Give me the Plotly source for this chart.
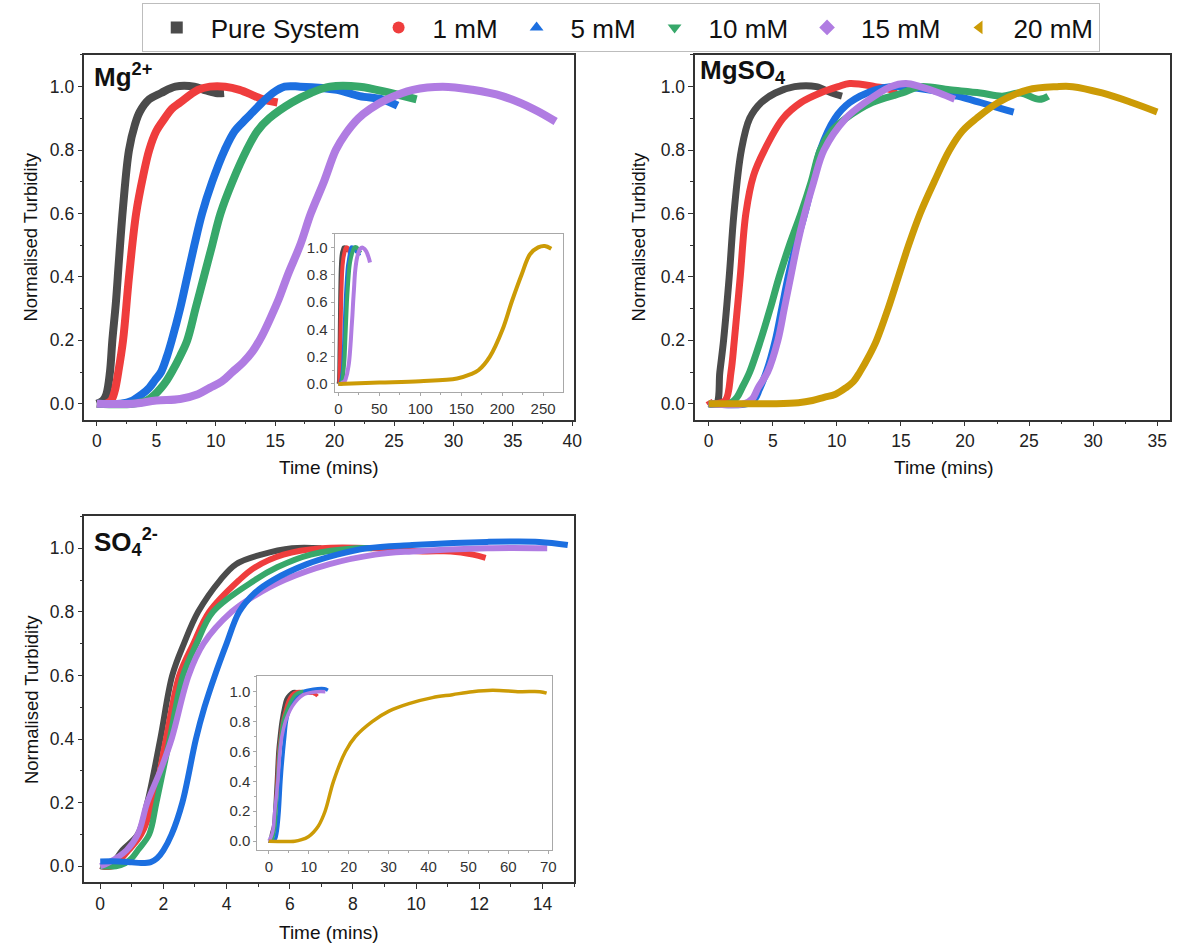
import plotly.graph_objects as go

W, H = 1178, 949

SERIES = ["Pure System", "1 mM", "5 mM", "10 mM", "15 mM", "20 mM"]
COLORS = ["#4b4b4b", "#ef3d3d", "#1c6fe0", "#37a86a", "#b07ce2", "#cc9b06"]
SYMBOLS = ["square", "circle", "triangle-up", "triangle-down", "diamond", "triangle-left"]

# ---- Mg2+ panel (time in minutes, normalised turbidity) ----
mg_pure_t = [0, 0.5, 0.8, 1.1, 1.3, 1.6, 1.85, 2.2, 2.7, 3.2, 3.6, 4.4, 5.4, 6.6, 8.2, 9.0, 10.0, 10.7]
mg_pure_v = [0, 0.01, 0.03, 0.1, 0.2, 0.32, 0.45, 0.62, 0.8, 0.88, 0.92, 0.96, 0.98, 1.0, 1.0, 0.99, 0.98, 0.98]
mg_1_t = [0, 0.8, 1.2, 1.5, 1.8, 2.2, 2.7, 3.3, 3.9, 4.4, 5.0, 5.7, 6.3, 7.0, 8.5, 9.5, 10.8, 12.0, 13.3, 14.0, 15.2]
mg_1_v = [0, 0.0, 0.01, 0.04, 0.1, 0.2, 0.4, 0.6, 0.72, 0.8, 0.86, 0.9, 0.93, 0.95, 0.99, 1.0, 1.0, 0.99, 0.97, 0.96, 0.95]
mg_5_t = [0, 2.0, 3.0, 3.8, 4.4, 4.9, 5.4, 5.9, 6.3, 7.0, 7.6, 8.2, 8.85, 9.7, 10.75, 11.6, 12.6, 13.9, 14.8, 15.8, 17.1, 20.2, 22.1, 24.0, 25.3]
mg_5_v = [0, 0.0, 0.01, 0.03, 0.05, 0.075, 0.1, 0.15, 0.2, 0.3, 0.4, 0.5, 0.6, 0.7, 0.8, 0.86, 0.9, 0.95, 0.98, 1.0, 1.0, 0.99, 0.97, 0.96, 0.94]
mg_10_t = [0, 3.0, 4.2, 4.9, 5.4, 5.9, 6.3, 7.0, 7.6, 8.3, 9.0, 9.7, 10.4, 11.4, 12.6, 13.5, 14.5, 16.4, 18.0, 19.6, 22.1, 24.7, 26.9]
mg_10_v = [0, 0.0, 0.01, 0.03, 0.05, 0.075, 0.1, 0.15, 0.2, 0.3, 0.4, 0.5, 0.6, 0.7, 0.8, 0.86, 0.9, 0.95, 0.98, 1.0, 1.0, 0.98, 0.96]
mg_15_t = [0, 3, 5, 7, 8.5, 9.5, 10.5, 11.4, 12.3, 13.1, 13.9, 14.6, 15.3, 16.1, 17.1, 18.0, 19.1, 20.1, 20.9, 22.0, 23.0, 24.4, 26.6, 29.1, 31.6, 34.1, 36.7, 38.6]
mg_15_v = [0, 0.0, 0.01, 0.015, 0.03, 0.05, 0.07, 0.1, 0.13, 0.165, 0.215, 0.27, 0.33, 0.41, 0.5, 0.6, 0.7, 0.8, 0.85, 0.9, 0.93, 0.96, 0.99, 1.0, 0.99, 0.97, 0.93, 0.89]
mg_20_t = [0, 50, 100, 145, 161, 171, 185, 200.6, 211.6, 223.7, 234, 244, 252, 260]
mg_20_v = [0, 0.01, 0.02, 0.04, 0.07, 0.1, 0.2, 0.4, 0.6, 0.8, 0.95, 1.0, 1.01, 0.99]

# ---- MgSO4 panel ----
ms_pure_t = [0, 0.6, 0.87, 1.16, 1.6, 1.97, 2.55, 3.2, 4.1, 5.2, 6.7, 8.4, 9.6, 10.4]
ms_pure_v = [0, 0.0, 0.1, 0.2, 0.4, 0.6, 0.8, 0.9, 0.95, 0.98, 1.0, 1.0, 0.98, 0.97]
ms_1_t = [0, 0.2, 0.6, 1.3, 1.74, 2.0, 2.46, 2.9, 3.5, 4.35, 5.8, 7.2, 8.7, 10.1, 11.0, 13.0, 14.2, 14.8]
ms_1_v = [0.01, 0.0, 0.0, 0.01, 0.1, 0.2, 0.4, 0.6, 0.72, 0.8, 0.9, 0.95, 0.98, 1.0, 1.01, 1.0, 0.99, 0.97]
ms_5_t = [0, 3.0, 3.6, 3.95, 4.5, 5.2, 5.7, 6.2, 6.8, 7.5, 8.1, 8.7, 9.85, 11.0, 13.0, 14.2, 17.1, 19.4, 21.2, 22.9, 23.8]
ms_5_v = [0, 0.0, 0.015, 0.045, 0.1, 0.2, 0.3, 0.4, 0.5, 0.6, 0.7, 0.8, 0.9, 0.95, 0.99, 1.0, 0.99, 0.97, 0.95, 0.93, 0.92]
ms_10_t = [0, 1.6, 2.2, 2.6, 3.2, 4.05, 4.8, 5.5, 6.3, 7.2, 8.0, 8.7, 9.6, 10.7, 12.75, 15.1, 16.5, 18.8, 21.2, 22.9, 24.3, 25.8, 26.5]
ms_10_v = [0, 0.0, 0.02, 0.05, 0.1, 0.2, 0.3, 0.4, 0.5, 0.6, 0.7, 0.8, 0.86, 0.9, 0.95, 0.98, 1.0, 0.99, 0.98, 0.97, 0.98, 0.96, 0.97]
ms_15_t = [0, 2.8, 3.4, 3.85, 4.6, 5.4, 5.9, 6.4, 6.9, 7.5, 8.2, 9.0, 10.7, 12.2, 14.2, 15.4, 16.5, 18.0, 19.2]
ms_15_v = [0, 0.0, 0.015, 0.05, 0.1, 0.2, 0.3, 0.4, 0.5, 0.6, 0.7, 0.8, 0.9, 0.95, 1.0, 1.01, 1.0, 0.98, 0.96]
ms_20_t = [0, 5, 7.0, 8.1, 9.0, 9.9, 10.7, 11.3, 11.8, 12.5, 13.1, 14.0, 14.8, 15.6, 16.5, 17.6, 18.8, 19.8, 20.9, 22.6, 24.9, 27.2, 28.4, 30.7, 33.0, 35.0]
ms_20_v = [0, 0.0, 0.003, 0.01, 0.02, 0.03, 0.05, 0.07, 0.1, 0.15, 0.2, 0.3, 0.4, 0.5, 0.6, 0.7, 0.8, 0.86, 0.9, 0.95, 0.99, 1.0, 1.0, 0.98, 0.95, 0.92]

# ---- SO4 2- panel ----
so_pure_t = [0, 0.3, 0.7, 1.19, 1.49, 1.9, 2.28, 2.65, 3.1, 3.8, 4.3, 5.1, 6.07, 7.0]
so_pure_v = [0, 0.0, 0.05, 0.1, 0.2, 0.4, 0.6, 0.7, 0.8, 0.9, 0.95, 0.98, 1.0, 1.0]
so_1_t = [0, 0.4, 0.9, 1.3, 1.67, 2.08, 2.5, 2.95, 3.45, 4.4, 4.9, 5.8, 7.0, 8.7, 10.2, 11.1, 11.8, 12.2]
so_1_v = [0, 0.0, 0.05, 0.1, 0.2, 0.4, 0.6, 0.7, 0.8, 0.9, 0.94, 0.98, 1.0, 1.0, 0.99, 0.99, 0.98, 0.97]
so_5_t = [0, 0.6, 1.0, 1.3, 1.6, 1.8, 2.0, 2.26, 2.6, 3.03, 3.3, 3.63, 4.0, 4.4, 4.9, 5.47, 6.54, 7.5, 8.45, 9.87, 12.25, 13.9, 14.8]
so_5_v = [0.015, 0.015, 0.012, 0.01, 0.013, 0.025, 0.05, 0.1, 0.2, 0.4, 0.5, 0.6, 0.7, 0.8, 0.86, 0.9, 0.95, 0.98, 1.0, 1.01, 1.02, 1.02, 1.01]
so_10_t = [0, 0.5, 0.8, 1.0, 1.19, 1.55, 1.78, 2.2, 2.62, 3.05, 3.57, 4.9, 5.6, 6.66, 8.1, 8.6]
so_10_v = [0, 0.0, 0.01, 0.025, 0.05, 0.1, 0.2, 0.4, 0.6, 0.7, 0.8, 0.9, 0.94, 0.98, 1.0, 1.0]
so_15_t = [0, 0.24, 0.83, 1.19, 1.49, 1.9, 2.26, 2.8, 3.27, 4.16, 4.88, 5.83, 7.26, 8.7, 9.87, 12.25, 14.15]
so_15_v = [0, 0.01, 0.05, 0.1, 0.2, 0.3, 0.4, 0.6, 0.7, 0.8, 0.85, 0.9, 0.95, 0.98, 0.99, 1.0, 1.0]
so_20_t = [0, 6.5, 8.2, 9.9, 11.2, 12.4, 14.1, 16.2, 19.2, 21.7, 25.9, 30.1, 35.1, 41, 46, 51, 56, 62.9, 67.9, 69.6]
so_20_v = [0, 0.0, 0.01, 0.03, 0.06, 0.1, 0.2, 0.4, 0.6, 0.7, 0.8, 0.87, 0.92, 0.96, 0.98, 1.0, 1.01, 1.0, 1.0, 0.99]

mg_main = [(mg_pure_t, mg_pure_v), (mg_1_t, mg_1_v), (mg_5_t, mg_5_v), (mg_10_t, mg_10_v), (mg_15_t, mg_15_v)]
mg_all = mg_main + [(mg_20_t, mg_20_v)]
ms_all = [(ms_pure_t, ms_pure_v), (ms_1_t, ms_1_v), (ms_5_t, ms_5_v), (ms_10_t, ms_10_v), (ms_15_t, ms_15_v), (ms_20_t, ms_20_v)]
so_main = [(so_pure_t, so_pure_v), (so_1_t, so_1_v), (so_10_t, so_10_v), (so_15_t, so_15_v), (so_5_t, so_5_v)]
so_main_idx = [0, 1, 3, 4, 2]
so_all = [(so_pure_t, so_pure_v), (so_1_t, so_1_v), (so_5_t, so_5_v), (so_10_t, so_10_v), (so_15_t, so_15_v), (so_20_t, so_20_v)]


def px_x(a, b):
    return [a / W, b / W]


def px_y(top, bottom):
    return [1 - bottom / H, 1 - top / H]


fig = go.Figure()


def add_curves(curves, idx, xa, ya, width):
    for (t, v), i in zip(curves, idx):
        fig.add_trace(go.Scatter(
            x=t, y=v, mode="lines", xaxis=xa, yaxis=ya, showlegend=False,
            line=dict(color=COLORS[i], width=width, shape="spline", smoothing=1.0),
            hoverinfo="skip",
        ))


add_curves(mg_main, range(5), "x", "y", 8)
add_curves(mg_all, range(6), "x2", "y2", 4)
add_curves(ms_all, range(6), "x3", "y3", 7)
add_curves(so_main, so_main_idx, "x4", "y4", 6)
add_curves(so_all, range(6), "x5", "y5", 3.5)

# legend entries
for name, c, s in zip(SERIES, COLORS, SYMBOLS):
    fig.add_trace(go.Scatter(
        x=[None], y=[None], mode="markers", name=name,
        marker=dict(color=c, symbol=s, size=12),
    ))

FONT = "Liberation Sans, Arial, sans-serif"
AX = "#333333"


def main_axis(domain, rng, dtick, minor_dtick, **kw):
    return dict(
        domain=domain, range=rng, showline=True, mirror=True, linecolor=AX, linewidth=1.5,
        ticks="outside", ticklen=5, tickwidth=1.3, tickcolor=AX, dtick=dtick, tick0=0,
        minor=dict(ticks="outside", ticklen=3, tickwidth=1.2, tickcolor=AX, dtick=minor_dtick),
        showgrid=False, zeroline=False, tickfont=dict(family=FONT, size=17.5, color="#222"),
        **kw,
    )


def inset_axis(domain, rng, dtick, minor_dtick, **kw):
    return dict(
        domain=domain, range=rng, showline=True, mirror=True, linecolor="#a8a8a8", linewidth=1,
        ticks="outside", ticklen=3, tickwidth=1, tickcolor="#a8a8a8", dtick=dtick, tick0=0,
        minor=dict(ticks="outside", ticklen=2, tickwidth=1, tickcolor="#a8a8a8", dtick=minor_dtick),
        showgrid=False, zeroline=False, tickfont=dict(family=FONT, size=15, color="#333"),
        **kw,
    )


fig.update_layout(
    width=W, height=H, margin=dict(l=0, r=0, t=0, b=0),
    paper_bgcolor="white", plot_bgcolor="rgba(0,0,0,0)",
    font=dict(family=FONT, color="#222"),
    showlegend=True,
    legend=dict(
        orientation="h", x=625 / W, xanchor="center", y=1 - 3 / H, yanchor="top",
        bordercolor="#bdbdbd", borderwidth=1, bgcolor="white",
        font=dict(family=FONT, size=26, color="#111"), itemwidth=58,
    ),
    xaxis=main_axis(px_x(85, 578), [-1.05, 40.15], 5, 2.5, anchor="y"),
    yaxis=main_axis(px_y(55, 420), [-0.05, 1.1], 0.2, 0.1, anchor="x", tickformat=".1f"),
    xaxis2=inset_axis(px_x(337, 567), [-4.5, 274.5], 50, 25, anchor="y2"),
    yaxis2=inset_axis(px_y(234, 392), [-0.056, 1.10], 0.2, 0.1, anchor="x2", tickformat=".1f"),
    xaxis3=main_axis(px_x(700, 1178), [-1.05, 36.0], 5, 2.5, anchor="y3"),
    yaxis3=main_axis(px_y(55, 420), [-0.05, 1.1], 0.2, 0.1, anchor="x3", tickformat=".1f"),
    xaxis4=main_axis(px_x(85, 578), [-0.5, 15.0], 2, 1, anchor="y4"),
    yaxis4=main_axis(px_y(517, 883), [-0.05, 1.1], 0.2, 0.1, anchor="x4", tickformat=".1f"),
    xaxis5=inset_axis(px_x(259, 556), [-2.9, 71.0], 10, 5, anchor="y5"),
    yaxis5=inset_axis(px_y(677, 851), [-0.06, 1.103], 0.2, 0.1, anchor="x5", tickformat=".1f"),
)


def ann(text, xp, yp, size, angle=0, xanchor="center", yanchor="middle"):
    fig.add_annotation(
        text=text, x=xp / W, y=1 - yp / H, xref="paper", yref="paper",
        showarrow=False, textangle=angle, xanchor=xanchor, yanchor=yanchor,
        font=dict(family=FONT, size=size, color="#111"),
    )


# axis titles
ann("Normalised Turbidity", 31, 237, 18.5, angle=-90)
ann("Normalised Turbidity", 643, 237, 18.5, angle=-90)
ann("Normalised Turbidity", 31, 700, 18.5, angle=-90)
ann("Time (mins)", 331, 468, 19)
ann("Time (mins)", 950, 468, 19)
ann("Time (mins)", 331, 933, 19)

# panel labels
ann("<b>Mg<sup>2+</sup></b>", 93, 76, 26, xanchor="left")
ann("<b>MgSO<sub>4</sub></b>", 703, 72, 26, xanchor="left")
ann("<b>SO<sub>4</sub><sup>2-</sup></b>", 93, 543, 26, xanchor="left")

fig.write_html("out.html")
